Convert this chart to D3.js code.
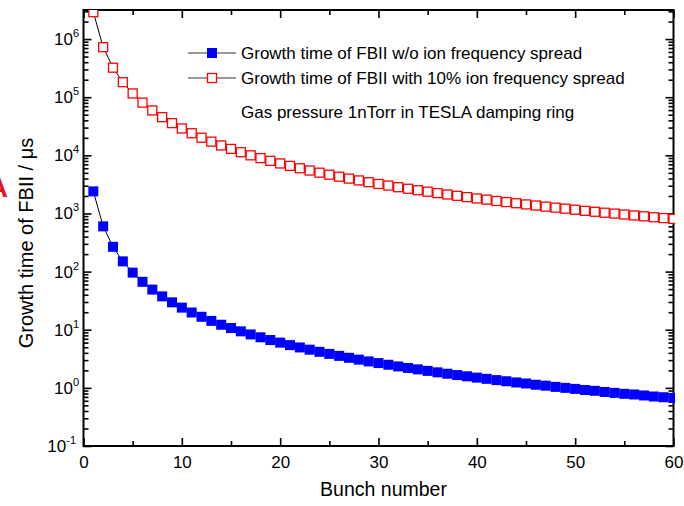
<!DOCTYPE html>
<html>
<head>
<meta charset="utf-8">
<script src="https://cdn.jsdelivr.net/npm/d3@7/dist/d3.min.js"></script>
<style>
  html, body { margin: 0; padding: 0; background: #fff; }
  svg { display: block; font-family: "Liberation Sans", Arial, Helvetica, sans-serif; }
</style>
</head>
<body>
<svg id="chart" width="684" height="506"></svg>
<script>
// Bunch numbers along the train
const bunches = d3.range(1, 61);

// FBII growth time (µs) without ion frequency spread
const growthNoSpread = [
  2400, 600, 267, 150, 96, 66.7, 49.0, 37.5, 29.6, 24.0,
  19.8, 16.7, 14.2, 12.2, 10.7, 9.38, 8.30, 7.41, 6.65, 6.00,
  5.44, 4.96, 4.54, 4.17, 3.84, 3.55, 3.29, 3.06, 2.85, 2.67,
  2.50, 2.34, 2.20, 2.08, 1.96, 1.85, 1.75, 1.66, 1.58, 1.50,
  1.43, 1.36, 1.30, 1.24, 1.19, 1.13, 1.09, 1.04, 1.00, 0.96,
  0.92, 0.89, 0.85, 0.82, 0.79, 0.77, 0.74, 0.71, 0.69, 0.67
];

// FBII growth time (µs) with 10% ion frequency spread
const growthSpread = [
  2.9e6, 7.25e5, 3.22e5, 1.81e5, 1.16e5, 8.06e4, 5.92e4, 4.53e4, 3.58e4, 2.90e4,
  2.40e4, 2.01e4, 1.72e4, 1.48e4, 1.29e4, 1.13e4, 1.00e4, 8950, 8030, 7250,
  6580, 5990, 5480, 5030, 4640, 4290, 3980, 3700, 3450, 3220,
  3020, 2830, 2660, 2510, 2370, 2240, 2120, 2010, 1910, 1810,
  1730, 1640, 1570, 1500, 1430, 1370, 1310, 1260, 1210, 1160,
  1110, 1070, 1030, 995, 959, 925, 893, 862, 833, 806
];

const xTicks = [0, 10, 20, 30, 40, 50, 60];
const yDecades = [-1, 0, 1, 2, 3, 4, 5, 6];
const legendLabels = [
  "Growth time of FBII w/o ion frequency spread",
  "Growth time of FBII with 10% ion frequency spread"
];
const note = "Gas pressure 1nTorr in TESLA damping ring";
const xTitle = "Bunch number";
const yTitle = "Growth time of FBII / \u03bcs";

const svg = d3.select("#chart");
const L = 83.5, R = 673.5, T = 10, B = 446;

const x = d3.scaleLinear().domain([0, 60]).range([L, R]);
const y = d3.scaleLog().domain([0.1, Math.pow(10, 6.5)]).range([B, T]);

// clip region for the data
svg.append("defs").append("clipPath").attr("id", "plot")
  .append("rect").attr("x", L).attr("y", T).attr("width", R - L + 1.5).attr("height", B - T);

// fragment of a red glyph at the left edge
svg.append("text").attr("x", 8).attr("y", 197).attr("text-anchor", "end")
  .attr("font-size", 28).attr("font-weight", "bold").attr("fill", "#e8141b").text("A");

// minor / major tick values
const xMinor = d3.range(5, 60, 10);
const yMinor = [];
for (let d = -1; d <= 6; d++) for (let m = 2; m <= 9; m++) {
  const v = m * Math.pow(10, d);
  if (v < y.domain()[1]) yMinor.push(v);
}
const yMajor = yDecades.map(d => Math.pow(10, d));

const axisStyle = g => {
  g.select(".domain").remove();
  g.selectAll(".tick line").attr("stroke", "#000").attr("stroke-width", 1.6);
};

// bottom axis (ticks inward)
svg.append("g").attr("transform", `translate(0,${B})`)
  .call(d3.axisBottom(x).tickValues(xTicks).tickSize(-8).tickSizeOuter(0).tickPadding(10).tickFormat(d3.format("d")))
  .call(axisStyle)
  .call(g => g.selectAll("text").attr("font-size", 17).attr("fill", "#000").attr("font-family", null));
svg.append("g").attr("transform", `translate(0,${B})`)
  .call(d3.axisBottom(x).tickValues(xMinor).tickSize(-5).tickFormat(""))
  .call(axisStyle);

// top axis
svg.append("g").attr("transform", `translate(0,${T})`)
  .call(d3.axisTop(x).tickValues(xTicks).tickSize(-8).tickFormat(""))
  .call(axisStyle);
svg.append("g").attr("transform", `translate(0,${T})`)
  .call(d3.axisTop(x).tickValues(xMinor).tickSize(-5).tickFormat(""))
  .call(axisStyle);

// left axis
svg.append("g").attr("transform", `translate(${L},0)`)
  .call(d3.axisLeft(y).tickValues(yMajor).tickSize(-8).tickFormat(""))
  .call(axisStyle);
svg.append("g").attr("transform", `translate(${L},0)`)
  .call(d3.axisLeft(y).tickValues(yMinor).tickSize(-5).tickFormat(""))
  .call(axisStyle);

// right axis
svg.append("g").attr("transform", `translate(${R},0)`)
  .call(d3.axisRight(y).tickValues(yMajor).tickSize(-8).tickFormat(""))
  .call(axisStyle);
svg.append("g").attr("transform", `translate(${R},0)`)
  .call(d3.axisRight(y).tickValues(yMinor).tickSize(-5).tickFormat(""))
  .call(axisStyle);

// frame
svg.append("rect").attr("x", L).attr("y", T).attr("width", R - L).attr("height", B - T)
  .attr("fill", "none").attr("stroke", "#000").attr("stroke-width", 2);

// y tick labels as powers of ten
const yl = svg.append("g").attr("font-size", 17).attr("fill", "#000");
yDecades.forEach(d => {
  const t = yl.append("text").attr("x", d < 0 ? 76 : 79).attr("y", y(Math.pow(10, d)) + 6)
    .attr("text-anchor", "end");
  t.append("tspan").text("10");
  t.append("tspan").attr("font-size", 11).attr("dy", -8).text(String(d));
});

// data
const plot = svg.append("g").attr("clip-path", "url(#plot)");
const line = d3.line().x((d, i) => x(bunches[i])).y(d => y(d));

plot.append("path").datum(growthSpread).attr("d", line)
  .attr("fill", "none").attr("stroke", "#000").attr("stroke-width", 1);
plot.append("path").datum(growthNoSpread).attr("d", line)
  .attr("fill", "none").attr("stroke", "#000").attr("stroke-width", 1);

const S = 10;
plot.selectAll("rect.spread").data(growthSpread).join("rect")
  .attr("class", "spread")
  .attr("x", (d, i) => x(bunches[i]) - S / 2 + 0.5).attr("y", d => y(d) - S / 2 + 0.5)
  .attr("width", S - 1).attr("height", S - 1)
  .attr("fill", "#fff").attr("stroke", "#ff0000").attr("stroke-width", 1.3);

plot.selectAll("rect.nospread").data(growthNoSpread).join("rect")
  .attr("class", "nospread")
  .attr("x", (d, i) => x(bunches[i]) - S / 2).attr("y", d => y(d) - S / 2)
  .attr("width", S).attr("height", S)
  .attr("fill", "#0000ff");

// legend
const lg = svg.append("g");
const rowsY = [53, 78];
const lx0 = 188, lx1 = 236, lmx = 212, ltx = 241;
rowsY.forEach((ry, i) => {
  lg.append("line").attr("x1", lx0).attr("x2", lx1).attr("y1", ry).attr("y2", ry)
    .attr("stroke", "#333").attr("stroke-width", 1);
  if (i === 0) {
    lg.append("rect").attr("x", lmx - 5).attr("y", ry - 5).attr("width", 10).attr("height", 10)
      .attr("fill", "#0000ff");
  } else {
    lg.append("rect").attr("x", lmx - 4.5).attr("y", ry - 4.5).attr("width", 9).attr("height", 9)
      .attr("fill", "#fff").attr("stroke", "#ff0000").attr("stroke-width", 1.3);
  }
  lg.append("text").attr("x", ltx).attr("y", ry + 6).attr("font-size", 17).attr("fill", "#000")
    .text(legendLabels[i]);
});
lg.append("text").attr("x", ltx).attr("y", 118).attr("font-size", 17).attr("fill", "#000").text(note);

// axis titles
svg.append("text").attr("x", (L + R) / 2 + 5).attr("y", 496).attr("text-anchor", "middle")
  .attr("font-size", 19.5).attr("fill", "#000").text(xTitle);
svg.append("text").attr("transform", `translate(33,243) rotate(-90)`).attr("text-anchor", "middle")
  .attr("font-size", 20).attr("fill", "#000").text(yTitle);
</script>
</body>
</html>
